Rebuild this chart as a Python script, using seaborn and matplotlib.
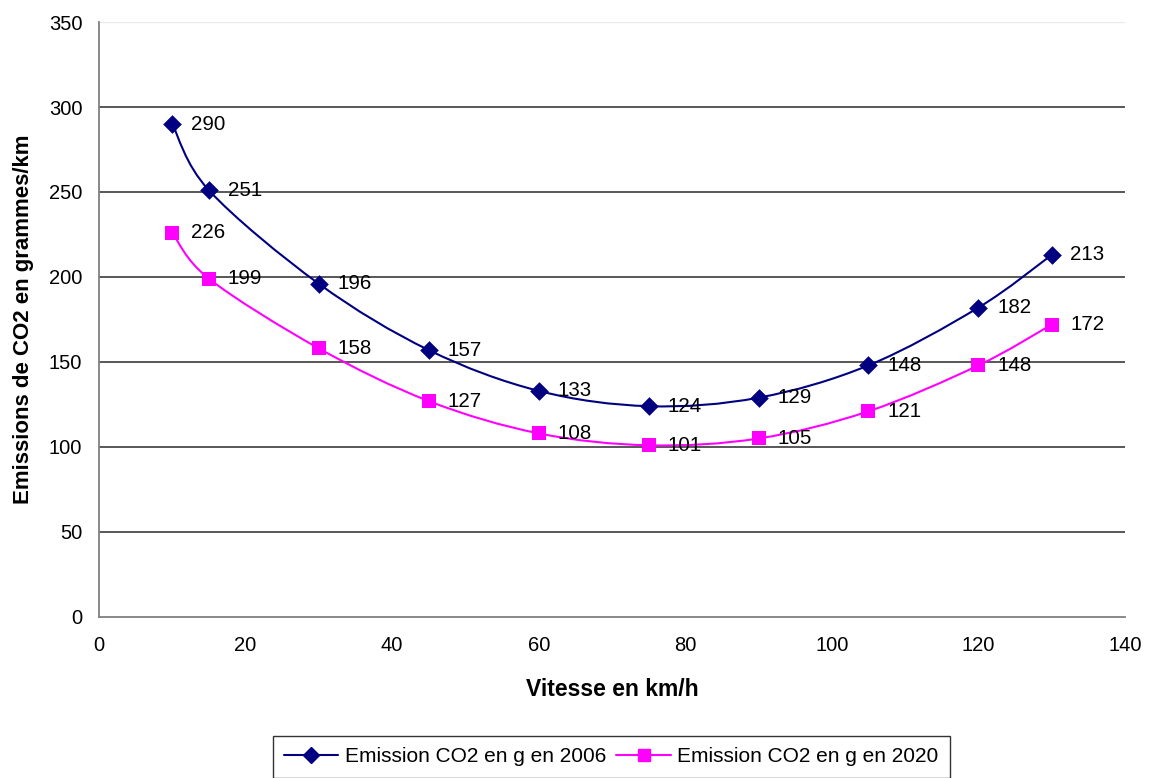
import numpy as np
import pandas as pd
import matplotlib
matplotlib.use("Agg")
import matplotlib.pyplot as plt
from matplotlib.path import Path
from matplotlib.patches import PathPatch
from matplotlib.lines import Line2D
import seaborn as sns

vitesse = [10, 15, 30, 45, 60, 75, 90, 105, 120, 130]
co2_2006 = [290, 251, 196, 157, 133, 124, 129, 148, 182, 213]
co2_2020 = [226, 199, 158, 127, 108, 101, 105, 121, 148, 172]
label_2006 = "Emission CO2 en g en 2006"
label_2020 = "Emission CO2 en g en 2020"

sns.set_theme(style="white")
plt.rcParams["font.family"] = ["Liberation Sans", "DejaVu Sans"]
plt.rcParams["text.color"] = "black"
plt.rcParams["axes.labelcolor"] = "black"


def smooth_path(xs, ys):
    # bezier segments like excel's smoothed line
    pts = np.column_stack([xs, ys]).astype(float)
    n = len(pts)
    verts = [pts[0]]
    codes = [Path.MOVETO]
    for i in range(n - 1):
        p0 = pts[i - 1] if i > 0 else pts[i]
        p1 = pts[i]
        p2 = pts[i + 1]
        p3 = pts[i + 2] if i + 2 < n else pts[i + 1]
        c1 = p1 + (p2 - p0) / 6.0
        c2 = p2 - (p3 - p1) / 6.0
        verts += [c1, c2, p2]
        codes += [Path.CURVE4] * 3
    return Path(verts, codes)


df = pd.DataFrame({"vitesse": vitesse, "y2006": co2_2006, "y2020": co2_2020})

fig = plt.figure(figsize=(11.51, 7.78), dpi=100)
ax = fig.add_axes([0.086, 0.207, 0.8914, 0.7647])

series = [
    ("y2006", "#000080", "D", 9.5, label_2006),
    ("y2020", "#FF00FF", "s", 9.5, label_2020),
]
for col, color, marker, msize, lab in series:
    ax.add_patch(PathPatch(smooth_path(df["vitesse"], df[col]), facecolor="none",
                           edgecolor=color, lw=1.5, zorder=3))
    sns.scatterplot(data=df, x="vitesse", y=col, marker=marker, s=msize ** 2,
                    color=color, edgecolor=color, linewidth=0, ax=ax, zorder=4)
    for xv, yv in zip(df["vitesse"], df[col]):
        ax.annotate(str(yv), (xv, yv), xytext=(13.5, 0), textcoords="offset points",
                    ha="left", va="center", fontsize=14.8, color="black")

ax.set_xlim(0, 140)
ax.set_ylim(0, 350)
ax.set_xticks(range(0, 141, 20))
ax.set_yticks(range(0, 351, 50))
ax.grid(False)
for yv in range(50, 350, 50):
    ax.axhline(yv, color="#4a4a4a", lw=1.3, zorder=1)
ax.axhline(350, color="#ebebeb", lw=1, zorder=0)
for s in ["top", "right"]:
    ax.spines[s].set_visible(False)
for s in ["left", "bottom"]:
    ax.spines[s].set_color("#808080")
    ax.spines[s].set_linewidth(1.3)
ax.tick_params(axis="both", direction="out", length=5, width=1.2, color="#808080",
               labelsize=14.5, labelcolor="black", pad=7)
ax.tick_params(axis="x", pad=9)
ax.set_xlabel("Vitesse en km/h", fontsize=16.5, fontweight="bold", labelpad=16, color="black")
ax.set_ylabel("Emissions de CO2 en grammes/km", fontsize=16, fontweight="bold",
              labelpad=11, color="black")

handles = [
    Line2D([], [], color="#000080", marker="D", markersize=8.5, lw=1.5),
    Line2D([], [], color="#FF00FF", marker="s", markersize=9, lw=1.5),
]
leg = fig.legend(handles, [label_2006, label_2020], loc="upper center",
                 bbox_to_anchor=(0.531, 0.054), ncol=2, fontsize=15, frameon=True,
                 fancybox=False, edgecolor="black", handlelength=2.6, columnspacing=0.5,
                 handletextpad=0.3, borderpad=0.55, borderaxespad=0, labelcolor="black")
leg.get_frame().set_linewidth(1.0)

fig.savefig("out.png", dpi=100)
